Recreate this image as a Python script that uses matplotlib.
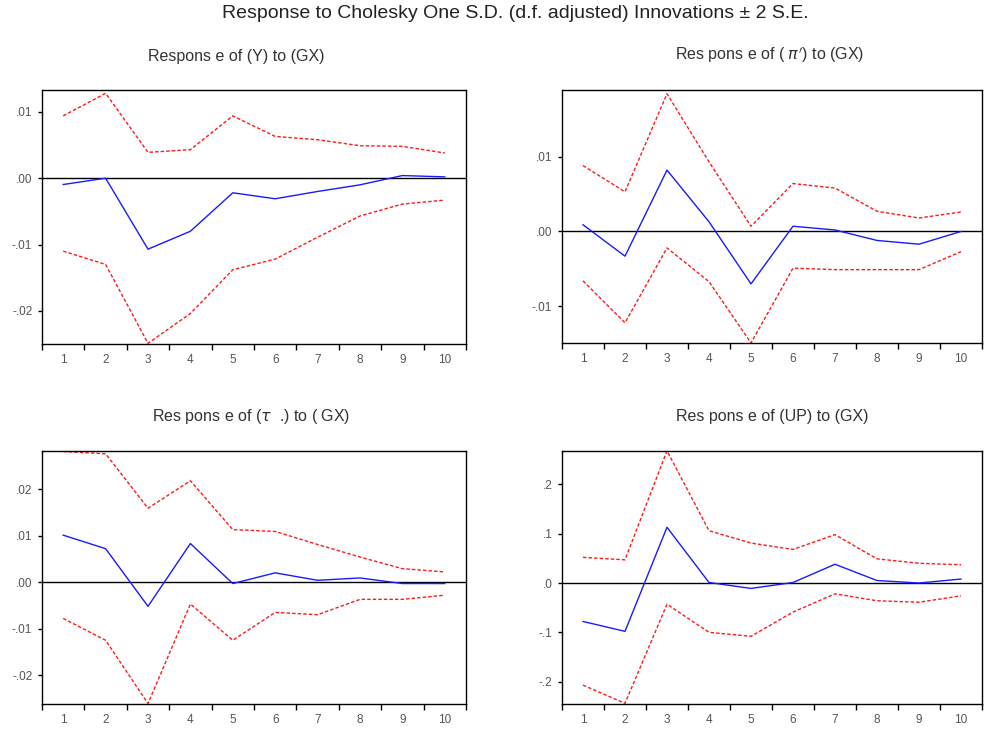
import numpy as np
import matplotlib
matplotlib.use('Agg')
import matplotlib.pyplot as plt
from matplotlib.ticker import FixedLocator, NullFormatter

plt.rcParams['font.family'] = ['Liberation Sans', 'DejaVu Sans']

periods = np.arange(1, 11)

# response of (Y) to (GX)
y_resp = [-0.00095, 0.0000, -0.0107, -0.0080, -0.0022, -0.0031, -0.0020, -0.0010, 0.0004, 0.0002]
y_up = [0.0094, 0.0128, 0.0039, 0.0043, 0.0094, 0.0063, 0.0058, 0.0049, 0.0048, 0.0038]
y_lo = [-0.0110, -0.0130, -0.0249, -0.0204, -0.0138, -0.0122, -0.0089, -0.0057, -0.0039, -0.0033]

# response of (pi) to (GX)
pi_resp = [0.0009, -0.0033, 0.0082, 0.0013, -0.0070, 0.0007, 0.0002, -0.0012, -0.0017, 0.0000]
pi_up = [0.0088, 0.0053, 0.0184, 0.0093, 0.0007, 0.0064, 0.0058, 0.0027, 0.0018, 0.0026]
pi_lo = [-0.0066, -0.0122, -0.0022, -0.0067, -0.0149, -0.0049, -0.0051, -0.0051, -0.0051, -0.0027]

# response of (tau) to (GX)
tau_resp = [0.0101, 0.0072, -0.0052, 0.0083, -0.0003, 0.0020, 0.0004, 0.0009, -0.0003, -0.0003]
tau_up = [0.0281, 0.0276, 0.0159, 0.0218, 0.0113, 0.0109, 0.0081, 0.0054, 0.0029, 0.0022]
tau_lo = [-0.0078, -0.0125, -0.0261, -0.0047, -0.0125, -0.0065, -0.0070, -0.0037, -0.0037, -0.0028]

# response of (UP) to (GX)
up_resp = [-0.078, -0.098, 0.113, 0.001, -0.011, 0.001, 0.038, 0.005, 0.000, 0.008]
up_up = [0.052, 0.047, 0.268, 0.106, 0.081, 0.068, 0.098, 0.049, 0.040, 0.037]
up_lo = [-0.207, -0.244, -0.043, -0.100, -0.108, -0.059, -0.022, -0.036, -0.039, -0.026]

W, H = 984, 731
fig = plt.figure(figsize=(W / 100, H / 100), dpi=100)


def px_axes(x0, y0, x1, y1):
    return fig.add_axes([x0 / W, 1 - y1 / H, (x1 - x0) / W, (y1 - y0) / H])


panels = [
    dict(box=(42, 90, 466, 344), resp=y_resp, up=y_up, lo=y_lo,
         ylim=(-0.0250, 0.0133), yticks=[-0.02, -0.01, 0.0, 0.01],
         ylabels=['-.02', '-.01', '.00', '.01'],
         title='Respons e of (Y) to (GX)', tpos=(236, 57)),
    dict(box=(562, 90, 982, 343), resp=pi_resp, up=pi_up, lo=pi_lo,
         ylim=(-0.0149, 0.0189), yticks=[-0.01, 0.0, 0.01],
         ylabels=['-.01', '.00', '.01'],
         title=r'Res pons e of ( $\pi^{\prime}$) to (GX)', tpos=(770, 55)),
    dict(box=(42, 451, 466, 704), resp=tau_resp, up=tau_up, lo=tau_lo,
         ylim=(-0.0262, 0.0282), yticks=[-0.02, -0.01, 0.0, 0.01, 0.02],
         ylabels=['-.02', '-.01', '.00', '.01', '.02'],
         title=r'Res pons e of ($\tau$  .) to ( GX)', tpos=(251, 416)),
    dict(box=(562, 451, 982, 704), resp=up_resp, up=up_up, lo=up_lo,
         ylim=(-0.2453, 0.2676), yticks=[-0.2, -0.1, 0.0, 0.1, 0.2],
         ylabels=['-.2', '-.1', '.0', '.1', '.2'],
         title='Res pons e of (UP) to (GX)', tpos=(772, 416)),
]

for p in panels:
    ax = px_axes(*p['box'])
    ax.axhline(0, color='black', lw=1.0, zorder=1)
    ax.plot(periods, p['up'], color='#ff1a1a', lw=1.0, ls=(0, (2.5, 1.5)), zorder=2)
    ax.plot(periods, p['lo'], color='#ff1a1a', lw=1.0, ls=(0, (2.5, 1.5)), zorder=2)
    ax.plot(periods, p['resp'], color='#1a1aff', lw=1.0, zorder=3)
    ax.set_xlim(0.5, 10.5)
    ax.set_ylim(*p['ylim'])
    ax.xaxis.set_major_locator(FixedLocator(np.arange(0.5, 11, 1)))
    ax.xaxis.set_major_formatter(NullFormatter())
    ax.xaxis.set_minor_locator(FixedLocator(periods))
    ax.set_xticklabels([str(i) for i in periods], minor=True)
    ax.tick_params(axis='x', which='major', direction='out', length=4, width=1, color='black')
    ax.tick_params(axis='x', which='minor', length=0, pad=7, labelsize=8.5, labelcolor='#555555')
    ax.set_yticks(p['yticks'])
    ax.set_yticklabels(p['ylabels'])
    ax.tick_params(axis='y', direction='out', length=3, width=1, color='black',
                   labelsize=8.5, labelcolor='#555555', pad=4)
    for s in ax.spines.values():
        s.set_color('black')
        s.set_linewidth(1.0)
    fig.text(p['tpos'][0] / W, 1 - p['tpos'][1] / H, p['title'], ha='center', va='center',
             fontsize=11.5, color='#333333')

fig.text(515 / W, 1 - 14 / H, 'Response to Cholesky One S.D. (d.f. adjusted) Innovations \u00b1 2 S.E.',
         ha='center', va='center', fontsize=14, color='#222222')

fig.savefig('out.png', dpi=100)
